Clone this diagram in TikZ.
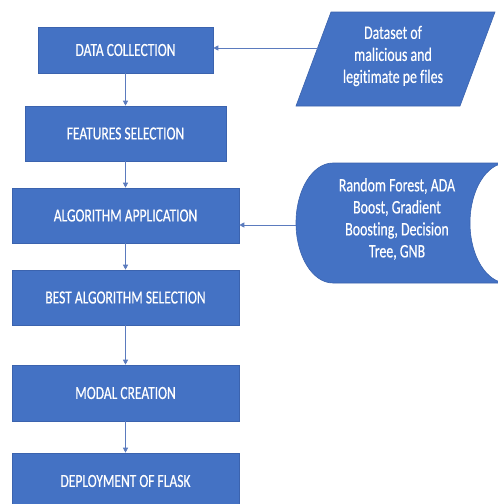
\documentclass[tikz,border=0pt]{standalone}
\usepackage{fontspec}
\setmainfont{Carlito}
\newfontfamily\calfont[FakeStretch=0.73, FakeBold=0.4, Ligatures=NoCommon]{Carlito}
\usetikzlibrary{arrows.meta}
\definecolor{boxblue}{HTML}{4472C4}
\definecolor{edgeblue}{HTML}{3B63AE}
\definecolor{linkblue}{HTML}{5B7BBE}
\begin{document}
\begin{tikzpicture}[x=1pt,y=-1pt,
  stepbox/.style={fill=boxblue, draw=edgeblue, line width=0.6pt, text=white,
    font=\calfont\fontsize{18.5}{21}\selectfont, inner sep=0pt, anchor=center},
  sideshape/.style={fill=boxblue, draw=edgeblue, line width=0.6pt},
  sidetext/.style={text=white, font=\calfont\fontsize{19}{22}\selectfont,
    align=center, inner sep=0pt},
  link/.style={draw=linkblue, line width=0.8pt, -{Triangle[width=5pt,length=5pt]}}]
\useasboundingbox (0,0) rectangle (498,504);
\clip (0,0) rectangle (498,504);
\fill[white] (0,0) rectangle (498,504);

% main column
\node[stepbox, minimum width=175pt, minimum height=46pt] (b1) at (125.5,50) {DATA COLLECTION};
\node[stepbox, minimum width=201pt, minimum height=55pt] (b2) at (125.5,133.5) {FEATURES SELECTION};
\node[stepbox, minimum width=227pt, minimum height=55pt] (b3) at (125.5,215.5) {ALGORITHM APPLICATION};
\node[stepbox, minimum width=227pt, minimum height=55pt] (b4) at (125.5,297.5) {BEST ALGORITHM SELECTION};
\node[stepbox, minimum width=227pt, minimum height=56pt] (b5) at (125.5,393) {MODAL CREATION};
\node[stepbox, minimum width=227pt, minimum height=56pt] (b6) at (125.5,481) {DEPLOYMENT OF FLASK};

% dataset (parallelogram)
\draw[sideshape] (331,12) -- (495,12) -- (460,106) -- (296,106) -- cycle;
\node[sidetext] (ds) at (393,56) {Dataset of\\malicious and\\legitimate pe files};
\coordinate (dsin) at (317.6,48);

% algorithms (stored data)
\draw[sideshape] (333,163) -- (507,163)
  arc[start angle=90, end angle=270, x radius=37pt, y radius=60pt]
  -- (333,283)
  arc[start angle=270, end angle=90, x radius=37pt, y radius=60pt] -- cycle;
\node[sidetext] (alg) at (397,219) {Random Forest, ADA\\Boost, Gradient\\Boosting, Decision\\Tree, GNB};
\coordinate (algin) at (296,225);

% connectors
\draw[link] (b1) -- (b2);
\draw[link] (b2) -- (b3);
\draw[link] (b3) -- (b4);
\draw[link] (b4) -- (b5);
\draw[link] (b5) -- (b6);
\draw[link] (dsin) -- (dsin -| b1.east);
\draw[link] (algin) -- (algin -| b3.east);
\end{tikzpicture}
\end{document}
